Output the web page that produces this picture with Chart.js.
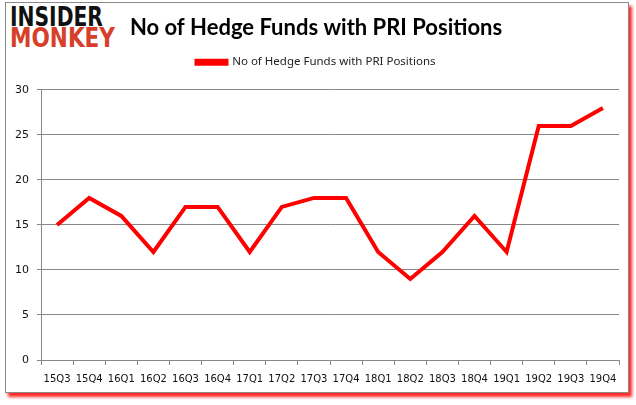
<!DOCTYPE html>
<html>
<head>
<meta charset="utf-8">
<script src="https://cdn.jsdelivr.net/npm/chart.js@4/dist/chart.umd.min.js"></script>
<style>
  html, body { margin: 0; padding: 0; background: #fff; }
  #wrap { position: relative; width: 636px; height: 405px; overflow: hidden; }
  #frame {
    position: absolute; left: 5px; top: 2px; width: 622px; height: 389px;
    border: 1px solid #8a8a8a; background: #fff;
    box-shadow: 3px 4px 3px rgba(255, 0, 0, 0.85);
  }
  #logo { position: absolute; left: 10px; top: 7px; font-family: "DejaVu Sans", sans-serif; font-weight: bold; line-height: 21px; font-size: 26px; }
  #logo div { transform-origin: left center; white-space: nowrap; }
  #logo .a { color: #111; transform: scaleX(0.78); }
  #logo .b { color: #d6402a; transform: scaleX(0.83); }
  canvas { position: absolute; left: 0; top: 0; }
</style>
</head>
<body>
<div id="wrap">
  <div id="frame"></div>
  <div id="logo"><div class="a">INSIDER</div><div class="b">MONKEY</div></div>
  <canvas id="c" width="636" height="405"></canvas>
</div>
<script>
const quarters = ["15Q3", "15Q4", "16Q1", "16Q2", "16Q3", "16Q4", "17Q1", "17Q2", "17Q3",
  "17Q4", "18Q1", "18Q2", "18Q3", "18Q4", "19Q1", "19Q2", "19Q3", "19Q4"];
const hedgeFunds = [15, 18, 16, 12, 17, 17, 12, 17, 18, 18, 12, 9, 12, 16, 12, 26, 26, 28];
const yTicks = [0, 5, 10, 15, 20, 25, 30];

const el = document.getElementById("c");
new Chart(el, {
  type: "line",
  data: {
    labels: quarters,
    datasets: [{
      label: "No of Hedge Funds with PRI Positions",
      data: hedgeFunds,
      borderColor: "#ff0000",
      backgroundColor: "#ff0000",
      borderWidth: 4,
      pointRadius: 0,
      tension: 0,
    }],
  },
  options: {
    responsive: false,
    animation: false,
    layout: { padding: { left: 13, right: 17, top: 0, bottom: 14 } },
    plugins: {
      title: {
        display: true,
        text: "No of Hedge Funds with PRI Positions",
        color: "#000",
        font: { family: "Lato", size: 22, weight: "bold" },
        padding: { top: 15, bottom: 5 },
      },
      // empty spacer between legend and plot
      subtitle: {
        display: true,
        text: " ",
        weight: 900,
        font: { size: 1, lineHeight: 1 },
        padding: { top: 0, bottom: 11 },
      },
      legend: {
        display: true,
        labels: {
          boxWidth: 30,
          boxHeight: 3,
          color: "#222",
          font: { family: "Noto Sans", size: 11.5 },
          padding: 10,
        },
      },
      tooltip: { enabled: false },
    },
    scales: {
      x: {
        offset: true,
        grid: { offset: true, drawOnChartArea: false, color: "#888", tickLength: 5 },
        border: { color: "#888" },
        ticks: { color: "#111", font: { family: "DejaVu Sans", size: 10 }, maxRotation: 0, autoSkip: false, padding: 8 },
        afterFit: (s) => { s.height = 31; },
      },
      y: {
        min: 0,
        max: 30,
        afterBuildTicks: (s) => { s.ticks = yTicks.map((v) => ({ value: v })); },
        grid: { color: "#888", tickLength: 4 },
        border: { color: "#888" },
        ticks: { color: "#111", font: { family: "DejaVu Sans", size: 11 }, padding: 8 },
        afterFit: (s) => { s.width = 28; },
      },
    },
  },
});
</script>
</body>
</html>
